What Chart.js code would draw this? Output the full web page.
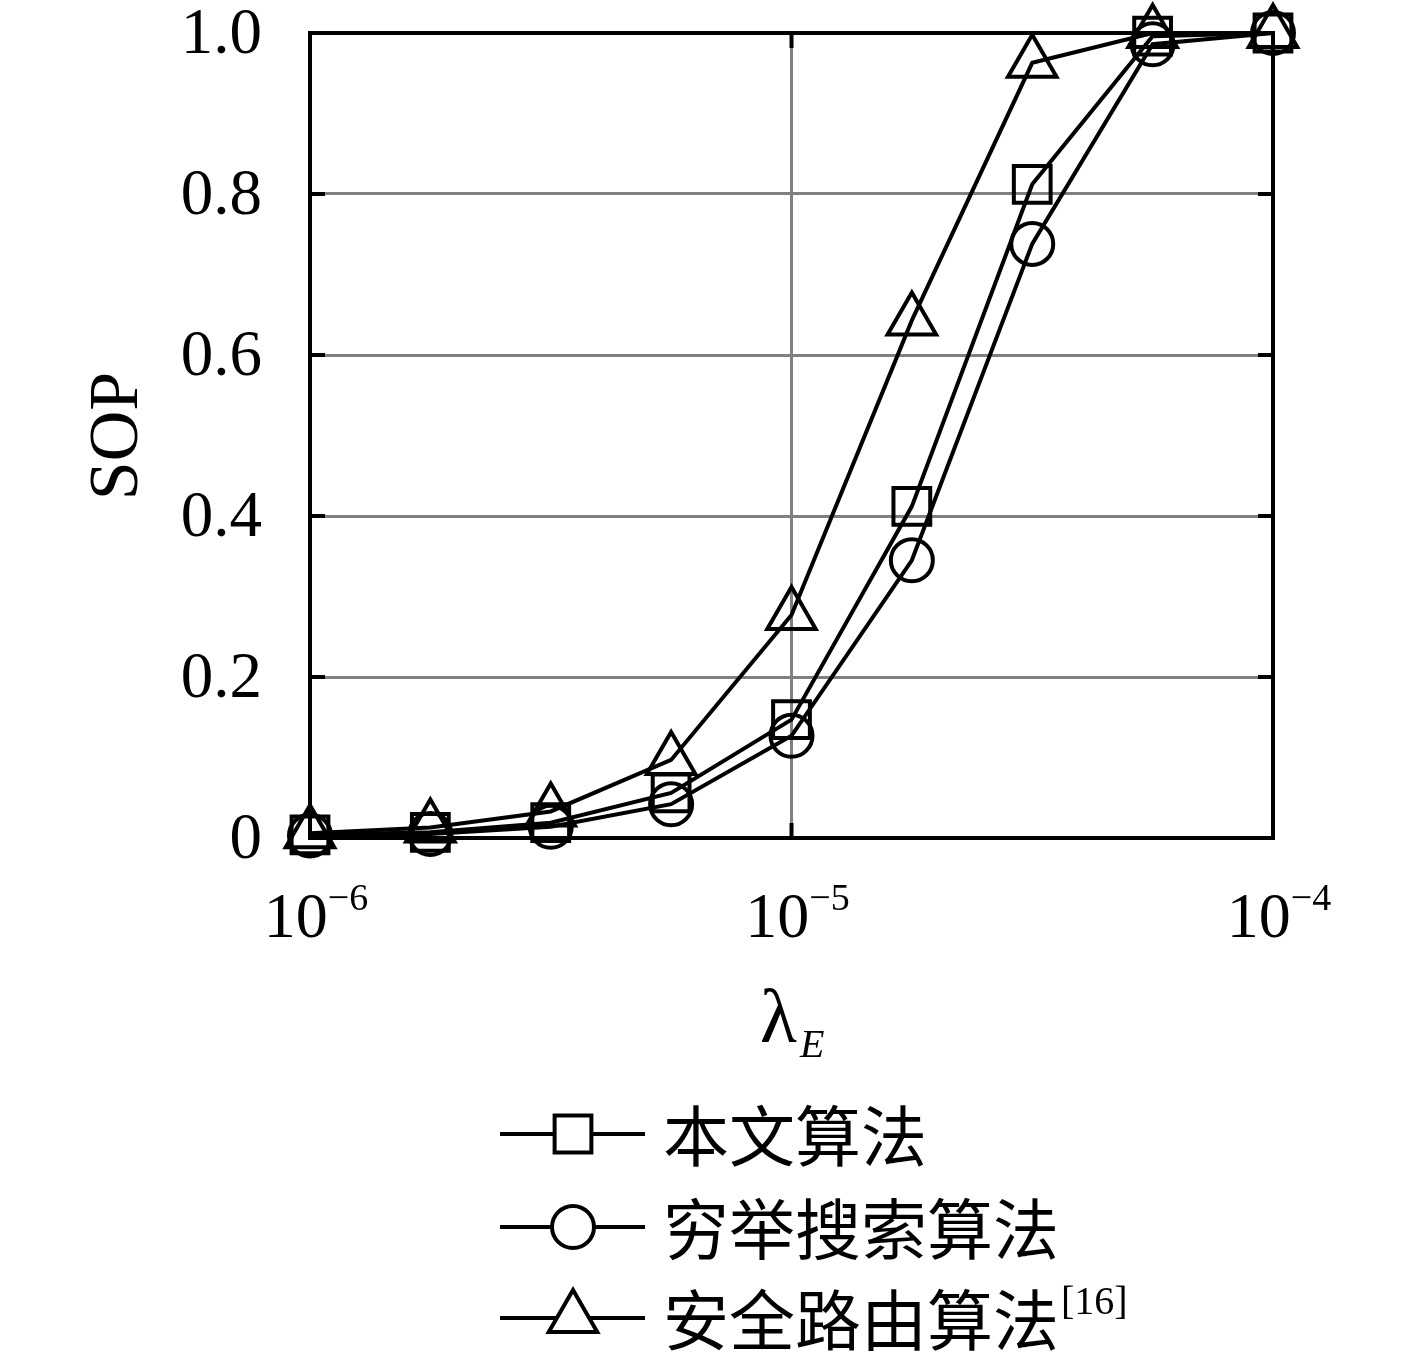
<!DOCTYPE html>
<html>
<head>
<meta charset="utf-8">
<script src="https://cdn.jsdelivr.net/npm/chart.js@4.4.1/dist/chart.umd.min.js"></script>
<style>
  html, body { margin: 0; padding: 0; background: #fff; }
  #wrap { width: 1417px; height: 1361px; }
</style>
</head>
<body>
<div id="wrap"><canvas id="sopChart" width="1417" height="1361"></canvas></div>
<script>
// lambda_E values (quarter-decade steps)
const lambdaE = [1e-6, 1.778e-6, 3.162e-6, 5.623e-6, 1e-5, 1.778e-5, 3.162e-5, 5.623e-5, 1e-4];

const sopProposed = [0.004, 0.007, 0.019, 0.056, 0.147, 0.412, 0.812, 0.996, 1.0];
const sopExhaustive = [0.003, 0.005, 0.014, 0.042, 0.127, 0.345, 0.738, 0.986, 1.0];
const sopSecureRoute = [0.006, 0.013, 0.033, 0.097, 0.277, 0.643, 0.963, 1.0, 1.0];

const seriesNames = ["本文算法", "穷举搜索算法", "安全路由算法"];
const xTickExps = [-6, -5, -4];
const yTicks = [0, 0.2, 0.4, 0.6, 0.8, 1.0];

const SERIF = '"Liberation Serif", "DejaVu Serif", serif';
const CJK = '"Noto Sans CJK SC", "Noto Sans", sans-serif';

const pts = (ys) => lambdaE.map((x, i) => ({ x: x, y: ys[i] }));

const mk = (label, ys, style, r) => ({
  label: label,
  data: pts(ys),
  borderColor: "#000",
  backgroundColor: "rgba(0,0,0,0)",
  borderWidth: 4,
  pointStyle: style,
  pointRadius: r,
  pointBorderWidth: 4,
  pointBorderColor: "#000",
  pointBackgroundColor: "rgba(0,0,0,0)",
  tension: 0,
  clip: false,
});

// frame, inward ticks, tick labels, axis titles, legend
const decorations = {
  id: "decorations",
  beforeDatasetsDraw(chart) {
    const { ctx, chartArea: a, scales } = chart;
    ctx.save();
    ctx.strokeStyle = "#000";
    ctx.lineWidth = 4;
    ctx.strokeRect(a.left, a.top, a.right - a.left, a.bottom - a.top);
    const t = 15;
    ctx.beginPath();
    yTicks.forEach((v) => {
      const y = scales.y.getPixelForValue(v);
      ctx.moveTo(a.left, y); ctx.lineTo(a.left + t, y);
      ctx.moveTo(a.right, y); ctx.lineTo(a.right - t, y);
    });
    xTickExps.forEach((e) => {
      const x = scales.x.getPixelForValue(Math.pow(10, e));
      ctx.moveTo(x, a.bottom); ctx.lineTo(x, a.bottom - t);
      ctx.moveTo(x, a.top); ctx.lineTo(x, a.top + t);
    });
    ctx.stroke();
    ctx.restore();
  },
  afterDraw(chart) {
    const { ctx, chartArea: a, scales } = chart;
    ctx.save();
    ctx.fillStyle = "#000";

    // y tick labels
    ctx.font = "65px " + SERIF;
    ctx.textAlign = "right";
    ctx.textBaseline = "middle";
    yTicks.forEach((v) => {
      const y = scales.y.getPixelForValue(v);
      ctx.fillText(v === 0 ? "0" : v.toFixed(1), 262, y + 3);
    });

    // x tick labels 10^n
    ctx.textBaseline = "alphabetic";
    ctx.textAlign = "left";
    xTickExps.forEach((e) => {
      const x = scales.x.getPixelForValue(Math.pow(10, e));
      ctx.font = "64px " + SERIF;
      const base = "10";
      const wb = ctx.measureText(base).width;
      ctx.font = "38px " + SERIF;
      const sup = "\u2212" + Math.abs(e);
      const ws = ctx.measureText(sup).width;
      const x0 = x - (wb + ws) / 2 + 6;
      ctx.font = "64px " + SERIF;
      ctx.fillText(base, x0, 937);
      ctx.font = "38px " + SERIF;
      ctx.fillText(sup, x0 + wb, 910);
    });

    // x title lambda_E
    ctx.font = "76px " + SERIF;
    ctx.fillText("λ", 760, 1042);
    ctx.font = "italic 40px " + SERIF;
    ctx.fillText("E", 800, 1057);

    // y title
    ctx.save();
    ctx.translate(137, 436);
    ctx.rotate(-Math.PI / 2);
    ctx.textAlign = "center";
    ctx.font = "70px " + SERIF;
    ctx.fillText("SOP", 0, 0);
    ctx.restore();

    // legend
    const rows = [1134, 1227, 1318];
    chart.data.datasets.forEach((ds, i) => {
      const y = rows[i];
      ctx.strokeStyle = "#000";
      ctx.lineWidth = 4;
      ctx.beginPath();
      ctx.moveTo(500, y); ctx.lineTo(645, y);
      ctx.stroke();
      const opts = { pointStyle: ds.pointStyle, radius: ds.pointRadius, borderWidth: 4, rotation: 0 };
      ctx.fillStyle = "#fff";
      ctx.strokeStyle = "#000";
      ctx.lineWidth = 4;
      Chart.helpers.drawPoint(ctx, opts, 573, y);
      ctx.fillStyle = "#000";
      ctx.font = "66px " + CJK;
      ctx.textAlign = "left";
      ctx.textBaseline = "middle";
      ctx.fillText(seriesNames[i], 663, y + 2);
      if (i === 2) {
        const w = ctx.measureText(seriesNames[i]).width;
        ctx.font = "40px " + SERIF;
        ctx.textBaseline = "alphabetic";
        ctx.fillText("[16]", 663 + w + 2, y - 4);
      }
    });
    ctx.restore();
  },
};

new Chart(document.getElementById("sopChart"), {
  type: "line",
  data: {
    datasets: [
      mk(seriesNames[0], sopProposed, "rect", 26),
      mk(seriesNames[1], sopExhaustive, "circle", 21),
      mk(seriesNames[2], sopSecureRoute, "triangle", 28),
    ],
  },
  options: {
    responsive: false,
    devicePixelRatio: 1,
    animation: false,
    layout: { padding: { left: 310, right: 144, top: 33, bottom: 523 } },
    plugins: { legend: { display: false }, tooltip: { enabled: false } },
    scales: {
      x: {
        type: "logarithmic",
        min: 1e-6,
        max: 1e-4,
        afterBuildTicks: (scale) => {
          scale.ticks = xTickExps.map((e) => ({ value: Math.pow(10, e) }));
        },
        ticks: { display: false },
        grid: { color: "#808080", lineWidth: 3, drawTicks: false },
        border: { display: false },
      },
      y: {
        min: 0,
        max: 1,
        ticks: { display: false, stepSize: 0.2 },
        grid: { color: "#808080", lineWidth: 3, drawTicks: false },
        border: { display: false },
      },
    },
  },
  plugins: [decorations],
});
</script>
</body>
</html>
